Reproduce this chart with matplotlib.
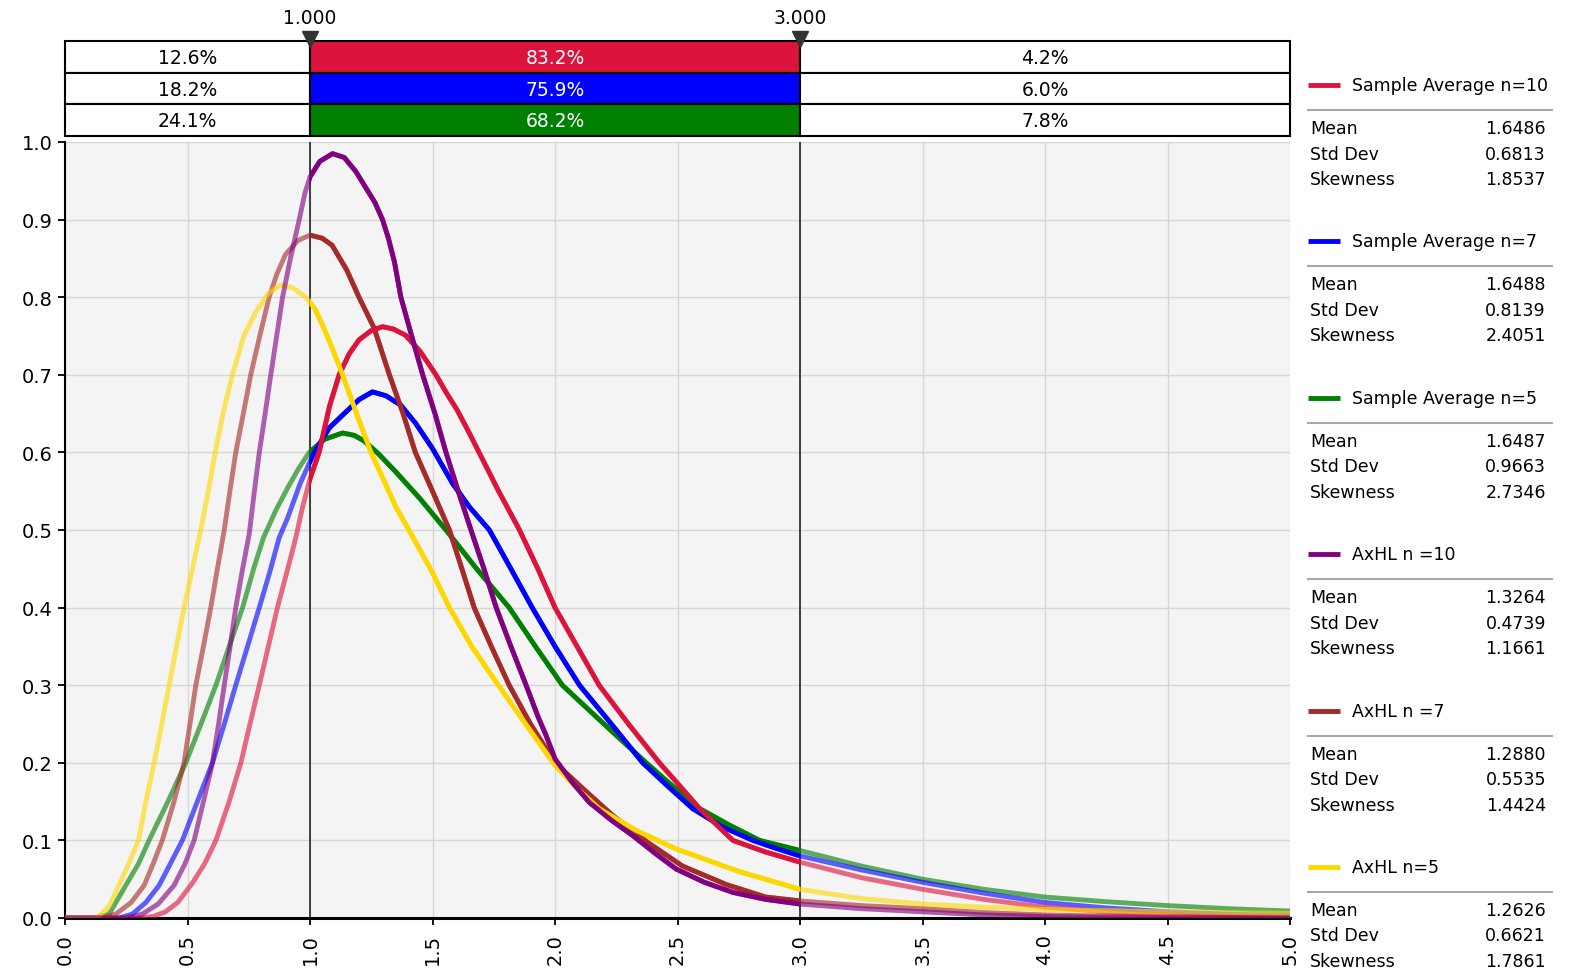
import matplotlib
matplotlib.use('Agg')
import matplotlib.pyplot as plt
from matplotlib.patches import Rectangle

# ---- data ----
markers = [1.0, 3.0]

red_x = [0.0, 0.30, 0.36, 0.41, 0.46, 0.52, 0.57, 0.616, 0.67, 0.718, 0.755, 0.793, 0.83, 0.867, 0.905, 0.942, 0.97, 1.0, 1.037, 1.08, 1.119, 1.16, 1.2, 1.25, 1.296, 1.34, 1.39, 1.45, 1.514, 1.56, 1.60, 1.65, 1.69, 1.77, 1.855, 1.93, 2.0, 2.09, 2.18, 2.30, 2.426, 2.51, 2.59, 2.66, 2.726, 2.86, 3.0, 3.25, 3.5, 3.75, 4.0, 4.25, 4.5, 4.75, 5.0]
red_y = [0.0, 0.0, 0.002, 0.008, 0.02, 0.045, 0.07, 0.10, 0.15, 0.20, 0.25, 0.30, 0.35, 0.40, 0.445, 0.49, 0.53, 0.566, 0.60, 0.66, 0.70, 0.727, 0.745, 0.757, 0.762, 0.759, 0.751, 0.73, 0.70, 0.675, 0.655, 0.625, 0.60, 0.55, 0.50, 0.45, 0.40, 0.35, 0.30, 0.25, 0.20, 0.17, 0.141, 0.12, 0.10, 0.085, 0.072, 0.052, 0.037, 0.024, 0.014, 0.008, 0.004, 0.002, 0.001]

blue_x = [0.0, 0.22, 0.275, 0.33, 0.384, 0.43, 0.479, 0.54, 0.602, 0.65, 0.697, 0.745, 0.793, 0.835, 0.874, 0.908, 0.96, 1.017, 1.08, 1.146, 1.20, 1.255, 1.31, 1.37, 1.43, 1.5, 1.582, 1.65, 1.732, 1.82, 1.907, 2.0, 2.1, 2.23, 2.358, 2.46, 2.562, 2.68, 2.808, 2.9, 3.0, 3.25, 3.5, 3.75, 4.0, 4.25, 4.5, 4.75, 5.0]
blue_y = [0.0, 0.0, 0.005, 0.02, 0.042, 0.07, 0.10, 0.15, 0.20, 0.25, 0.30, 0.35, 0.40, 0.445, 0.49, 0.515, 0.56, 0.60, 0.632, 0.652, 0.668, 0.678, 0.673, 0.661, 0.638, 0.605, 0.56, 0.53, 0.50, 0.45, 0.40, 0.35, 0.30, 0.25, 0.20, 0.17, 0.141, 0.118, 0.10, 0.09, 0.08, 0.062, 0.046, 0.032, 0.02, 0.013, 0.008, 0.005, 0.003]

green_x = [0.0, 0.12, 0.18, 0.248, 0.30, 0.343, 0.42, 0.493, 0.555, 0.616, 0.67, 0.725, 0.77, 0.81, 0.86, 0.91, 0.955, 0.997, 1.06, 1.133, 1.18, 1.22, 1.28, 1.35, 1.45, 1.555, 1.68, 1.813, 1.92, 2.03, 2.2, 2.372, 2.48, 2.59, 2.71, 2.835, 3.0, 3.25, 3.5, 3.75, 4.0, 4.25, 4.5, 4.75, 5.0]
green_y = [0.0, 0.0, 0.005, 0.042, 0.07, 0.10, 0.15, 0.20, 0.25, 0.30, 0.35, 0.40, 0.45, 0.49, 0.525, 0.555, 0.58, 0.60, 0.617, 0.625, 0.622, 0.615, 0.598, 0.575, 0.54, 0.50, 0.45, 0.40, 0.35, 0.30, 0.25, 0.20, 0.17, 0.141, 0.12, 0.10, 0.087, 0.067, 0.05, 0.037, 0.027, 0.021, 0.016, 0.012, 0.009]

purple_x = [0.0, 0.25, 0.315, 0.38, 0.445, 0.49, 0.527, 0.565, 0.602, 0.627, 0.650, 0.674, 0.697, 0.725, 0.752, 0.773, 0.793, 0.817, 0.840, 0.864, 0.888, 0.92, 0.956, 0.98, 1.0, 1.04, 1.092, 1.14, 1.187, 1.228, 1.265, 1.296, 1.32, 1.345, 1.371, 1.415, 1.46, 1.51, 1.555, 1.605, 1.657, 1.71, 1.76, 1.82, 1.882, 1.93, 1.964, 2.0, 2.07, 2.14, 2.23, 2.318, 2.41, 2.495, 2.61, 2.726, 2.86, 3.0, 3.25, 3.5, 3.75, 4.0, 4.5, 5.0]
purple_y = [0.0, 0.0, 0.005, 0.018, 0.042, 0.07, 0.10, 0.15, 0.20, 0.25, 0.30, 0.35, 0.40, 0.45, 0.495, 0.55, 0.60, 0.65, 0.70, 0.75, 0.80, 0.85, 0.90, 0.935, 0.955, 0.975, 0.985, 0.98, 0.962, 0.941, 0.922, 0.90, 0.876, 0.845, 0.80, 0.75, 0.70, 0.65, 0.60, 0.55, 0.50, 0.45, 0.40, 0.35, 0.30, 0.26, 0.235, 0.205, 0.175, 0.149, 0.126, 0.106, 0.083, 0.063, 0.046, 0.033, 0.024, 0.018, 0.012, 0.008, 0.004, 0.002, 0.0, 0.0]

brown_x = [0.0, 0.15, 0.207, 0.27, 0.323, 0.36, 0.397, 0.445, 0.486, 0.51, 0.534, 0.565, 0.595, 0.622, 0.65, 0.673, 0.697, 0.728, 0.758, 0.795, 0.833, 0.865, 0.90, 0.95, 1.0, 1.05, 1.09, 1.15, 1.2, 1.262, 1.324, 1.38, 1.43, 1.50, 1.569, 1.62, 1.67, 1.74, 1.813, 1.9, 2.0, 2.12, 2.236, 2.38, 2.52, 2.7, 2.86, 3.0, 3.25, 3.5, 3.75, 4.0, 4.5, 5.0]
brown_y = [0.0, 0.0, 0.005, 0.02, 0.042, 0.07, 0.10, 0.15, 0.20, 0.25, 0.30, 0.35, 0.40, 0.45, 0.50, 0.55, 0.60, 0.65, 0.70, 0.75, 0.80, 0.83, 0.855, 0.873, 0.880, 0.876, 0.867, 0.835, 0.80, 0.76, 0.70, 0.65, 0.60, 0.55, 0.50, 0.45, 0.40, 0.35, 0.30, 0.25, 0.20, 0.165, 0.132, 0.097, 0.067, 0.043, 0.027, 0.022, 0.016, 0.012, 0.007, 0.004, 0.001, 0.0]

yellow_x = [0.0, 0.13, 0.18, 0.22, 0.26, 0.30, 0.33, 0.364, 0.395, 0.425, 0.455, 0.486, 0.52, 0.554, 0.585, 0.613, 0.645, 0.683, 0.73, 0.779, 0.83, 0.881, 0.93, 0.983, 1.02, 1.051, 1.09, 1.133, 1.19, 1.249, 1.30, 1.35, 1.43, 1.50, 1.569, 1.66, 1.76, 1.88, 2.0, 2.09, 2.18, 2.33, 2.495, 2.75, 3.0, 3.25, 3.5, 3.75, 4.0, 4.5, 5.0]
yellow_y = [0.0, 0.0, 0.015, 0.042, 0.07, 0.10, 0.15, 0.20, 0.25, 0.30, 0.35, 0.40, 0.45, 0.50, 0.55, 0.60, 0.65, 0.70, 0.75, 0.781, 0.805, 0.816, 0.812, 0.80, 0.785, 0.764, 0.735, 0.70, 0.65, 0.60, 0.565, 0.53, 0.485, 0.445, 0.40, 0.35, 0.304, 0.25, 0.197, 0.167, 0.141, 0.113, 0.089, 0.06, 0.037, 0.025, 0.018, 0.014, 0.011, 0.008, 0.006]

names = ['Sample Average n=10', 'Sample Average n=7', 'Sample Average n=5',
         'AxHL n =10', 'AxHL n =7', 'AxHL n=5']
colors = ['#dc143c', '#0000ff', '#008000', '#800080', '#a52a2a', '#ffd700']
means = [1.6486, 1.6488, 1.6487, 1.3264, 1.2880, 1.2626]
stds = [0.6813, 0.8139, 0.9663, 0.4739, 0.5535, 0.6621]
skews = [1.8537, 2.4051, 2.7346, 1.1661, 1.4424, 1.7861]

# probability bars (left of 1, between, right of 3) for the first three series
pct_left = [12.6, 18.2, 24.1]
pct_mid = [83.2, 75.9, 68.2]
pct_right = [4.2, 6.0, 7.8]

xs = [red_x, blue_x, green_x, purple_x, brown_x, yellow_x]
ys = [red_y, blue_y, green_y, purple_y, brown_y, yellow_y]

W, H = 1570, 979
FS = 12.5      # legend text
TFS = 14       # axis tick labels
BFS = 13.5     # bar / marker labels


def fx(px):
    return px / W


def fy(py):
    return 1 - py / H


plt.rcParams['font.family'] = ['DejaVu Sans']
fig = plt.figure(figsize=(W / 100, H / 100), dpi=100)

# ---- main plot ----
ax = fig.add_axes([fx(65), fy(919), fx(1290) - fx(65), fy(143) - fy(919)])
ax.set_facecolor('#f4f4f4')
ax.set_xlim(0, 5)
ax.set_ylim(0, 1.0)
ax.set_xticks([i * 0.5 for i in range(11)])
ax.set_yticks([i * 0.1 for i in range(11)])
ax.set_xticklabels(['%.1f' % (i * 0.5) for i in range(11)], rotation=90, fontsize=TFS)
ax.set_yticklabels(['%.1f' % (i * 0.1) for i in range(11)], fontsize=TFS)
ax.grid(color='#d6d6d6', lw=1.0)
ax.set_axisbelow(True)
for s in ['top', 'right']:
    ax.spines[s].set_visible(False)
ax.spines['left'].set_linewidth(1.5)
ax.spines['bottom'].set_linewidth(2.2)
ax.tick_params(length=5, width=1.3, color='black')
ax.tick_params(axis='x', pad=6)
ax.tick_params(axis='y', pad=4)

for m in markers:
    ax.axvline(m, color='#333333', lw=1.3, zorder=2)

order = [2, 1, 4, 0, 5, 3]
for i in order:
    # lighter outside the marker range, solid inside
    ax.plot(xs[i], ys[i], color=colors[i], lw=3.5, alpha=0.62, zorder=3,
            solid_joinstyle='round')
    ln, = ax.plot(xs[i], ys[i], color=colors[i], lw=3.5, zorder=4,
                  solid_joinstyle='round')
    clip = Rectangle((markers[0], -0.1), markers[1] - markers[0], 1.3,
                     transform=ax.transData)
    ln.set_clip_path(clip)

# ---- probability bars on top ----
axb = fig.add_axes([fx(65), fy(137), fx(1290) - fx(65), fy(42) - fy(137)])
axb.set_xlim(0, 5)
axb.set_ylim(3, 0)
axb.axis('off')
edges = [0.0] + markers + [5.0]
for r in range(3):
    vals = [pct_left[r], pct_mid[r], pct_right[r]]
    fills = ['white', colors[r], 'white']
    tcol = ['black', 'white', 'black']
    for k in range(3):
        axb.barh(r + 0.5, edges[k + 1] - edges[k], left=edges[k], height=1,
                 color=fills[k], edgecolor='black', lw=1.5, clip_on=False)
        axb.text((edges[k] + edges[k + 1]) / 2, r + 0.52, '%.1f%%' % vals[k],
                 ha='center', va='center', fontsize=BFS, color=tcol[k])
for m in markers:
    axb.plot([m], [-0.05], marker='v', ms=11, color='#333333', clip_on=False, zorder=5)
    axb.annotate('%.3f' % m, (m, 0), xytext=(0, 17), textcoords='offset points',
                 ha='center', va='center', fontsize=BFS)

# ---- legend / statistics panel ----
axl = fig.add_axes([0, 0, 1, 1])
axl.set_xlim(0, W)
axl.set_ylim(H, 0)
axl.axis('off')
axl.patch.set_alpha(0)
for i in range(len(names)):
    y0 = 86 + i * 156.4
    axl.plot([1308, 1340], [y0, y0], color=colors[i], lw=3.5, solid_capstyle='butt')
    axl.text(1352, y0, names[i], va='center', ha='left', fontsize=FS)
    axl.plot([1308, 1552], [y0 + 25, y0 + 25], color='#a8a8a8', lw=1.5)
    rows = [('Mean', means[i]), ('Std Dev', stds[i]), ('Skewness', skews[i])]
    for j, (lab, v) in enumerate(rows):
        yy = y0 + 43 + j * 25.5
        axl.text(1310, yy, lab, va='center', ha='left', fontsize=FS)
        axl.text(1546, yy, '%.4f' % v, va='center', ha='right', fontsize=FS)

fig.savefig('out.png', dpi=100)
